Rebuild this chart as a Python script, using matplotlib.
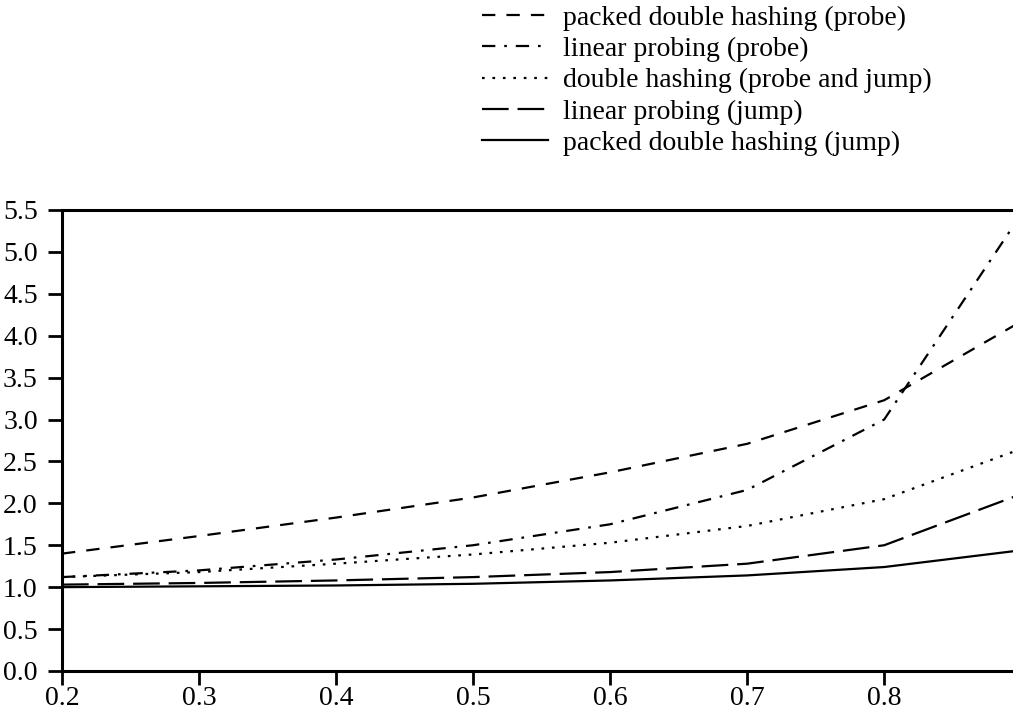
import numpy as np
import matplotlib
matplotlib.use("Agg")
import matplotlib.pyplot as plt

# load factor
load = [0.2, 0.3, 0.4, 0.5, 0.6, 0.7, 0.8, 0.9]

packed_probe = [1.40, 1.61, 1.83, 2.07, 2.37, 2.71, 3.23, 4.17]
linear_probe = [1.12, 1.20, 1.33, 1.50, 1.75, 2.16, 3.00, 5.45]
double_probe_jump = [1.12, 1.18, 1.28, 1.39, 1.53, 1.73, 2.05, 2.65]
linear_jump = [1.03, 1.05, 1.08, 1.12, 1.18, 1.28, 1.50, 2.11]
packed_jump = [1.00, 1.01, 1.02, 1.04, 1.08, 1.14, 1.24, 1.44]

labels = ["packed double hashing (probe)",
          "linear probing (probe)",
          "double hashing (probe and jump)",
          "linear probing (jump)",
          "packed double hashing (jump)"]

y_ticks = [0.0, 0.5, 1.0, 1.5, 2.0, 2.5, 3.0, 3.5, 4.0, 4.5, 5.0, 5.5]
x_ticks = [0.2, 0.3, 0.4, 0.5, 0.6, 0.7, 0.8]

plt.rcParams['font.family'] = ['Liberation Serif', 'DejaVu Serif']
plt.rcParams['font.size'] = 20

fig = plt.figure(figsize=(10.13, 7.11), dpi=100)
ax = fig.add_axes([0.0612, 0.0563, 0.9388, 0.6484])

lw = 1.6
series = [packed_probe, linear_probe, double_probe_jump, linear_jump, packed_jump]
styles = [(0, (6, 5)), (0, (6, 4, 1.2, 4)), (0, (1.2, 3.5)), (0, (12, 4)), '-']
for vals, ls, lab in zip(series, styles, labels):
    ax.plot(load, vals, color='black', lw=lw, linestyle=ls, label=lab)

ax.set_xlim(0.2, 0.894)
ax.set_ylim(0.0, 5.5)
ax.set_xticks(x_ticks)
ax.set_yticks(y_ticks)
ax.set_xticklabels([f"{v:.1f}" for v in x_ticks])
ax.set_yticklabels([f"{v:.1f}" for v in y_ticks])

for side in ['left', 'bottom', 'top']:
    ax.spines[side].set_linewidth(2.2)
ax.spines['right'].set_visible(False)
ax.tick_params(direction='out', length=10, width=2, labelsize=20)
ax.tick_params(axis='x', pad=0.8)
ax.tick_params(axis='y', pad=7.5)

fig.legend(loc='upper left', bbox_to_anchor=(0.465, 1.008), frameon=False,
           handlelength=2.37, handletextpad=0.54, labelspacing=0.21,
           borderaxespad=0.0, fontsize=20)

fig.savefig("out.png", dpi=100)
